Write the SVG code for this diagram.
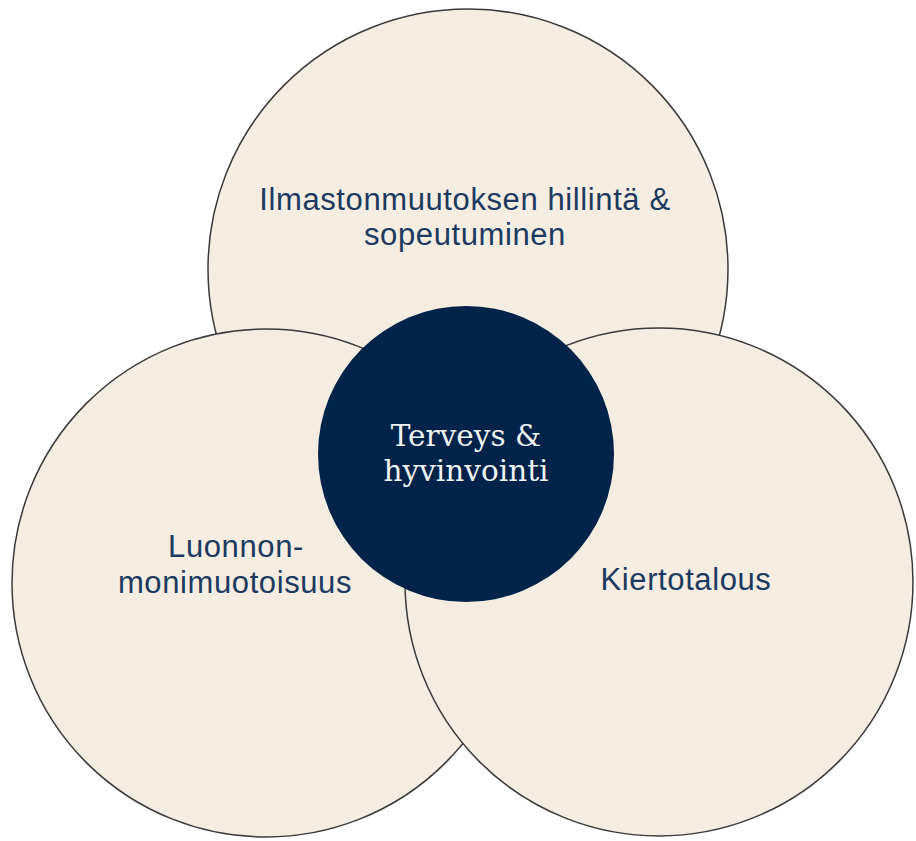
<svg xmlns="http://www.w3.org/2000/svg" width="916" height="841" viewBox="0 0 916 841">
<style>
.ring{fill:#F5ECE2;stroke:#3a3a3a;stroke-width:1.5}
.core{fill:#00234A}
.lbl{font-family:"Liberation Sans",Arial,sans-serif;font-size:31px;letter-spacing:0.6px;fill:#1B3A5E;text-anchor:middle}
.clbl{font-family:"DejaVu Serif","Liberation Serif",serif;font-size:29.5px;fill:#F2F2F2;text-anchor:middle}
</style>
<rect width="916" height="841" fill="#FFFFFF"/>
<g id="connectors"></g>
<g id="node-ilmasto">
<circle class="ring" cx="468" cy="269" r="260"/>
<text class="lbl" x="465" y="210">Ilmastonmuutoksen hillintä &amp;</text>
<text class="lbl" x="465" y="245">sopeutuminen</text>
</g>
<g id="node-luonto">
<circle class="ring" cx="266" cy="583" r="254"/>
<text class="lbl" x="236" y="557">Luonnon-</text>
<text class="lbl" x="235" y="593">monimuotoisuus</text>
</g>
<g id="node-kierto">
<circle class="ring" cx="659" cy="582" r="254"/>
<text class="lbl" x="686" y="590">Kiertotalous</text>
</g>
<g id="node-terveys">
<circle class="core" cx="466" cy="454" r="148"/>
<text class="clbl" x="466" y="446">Terveys &amp;</text>
<text class="clbl" x="466" y="481">hyvinvointi</text>
</g>
</svg>
